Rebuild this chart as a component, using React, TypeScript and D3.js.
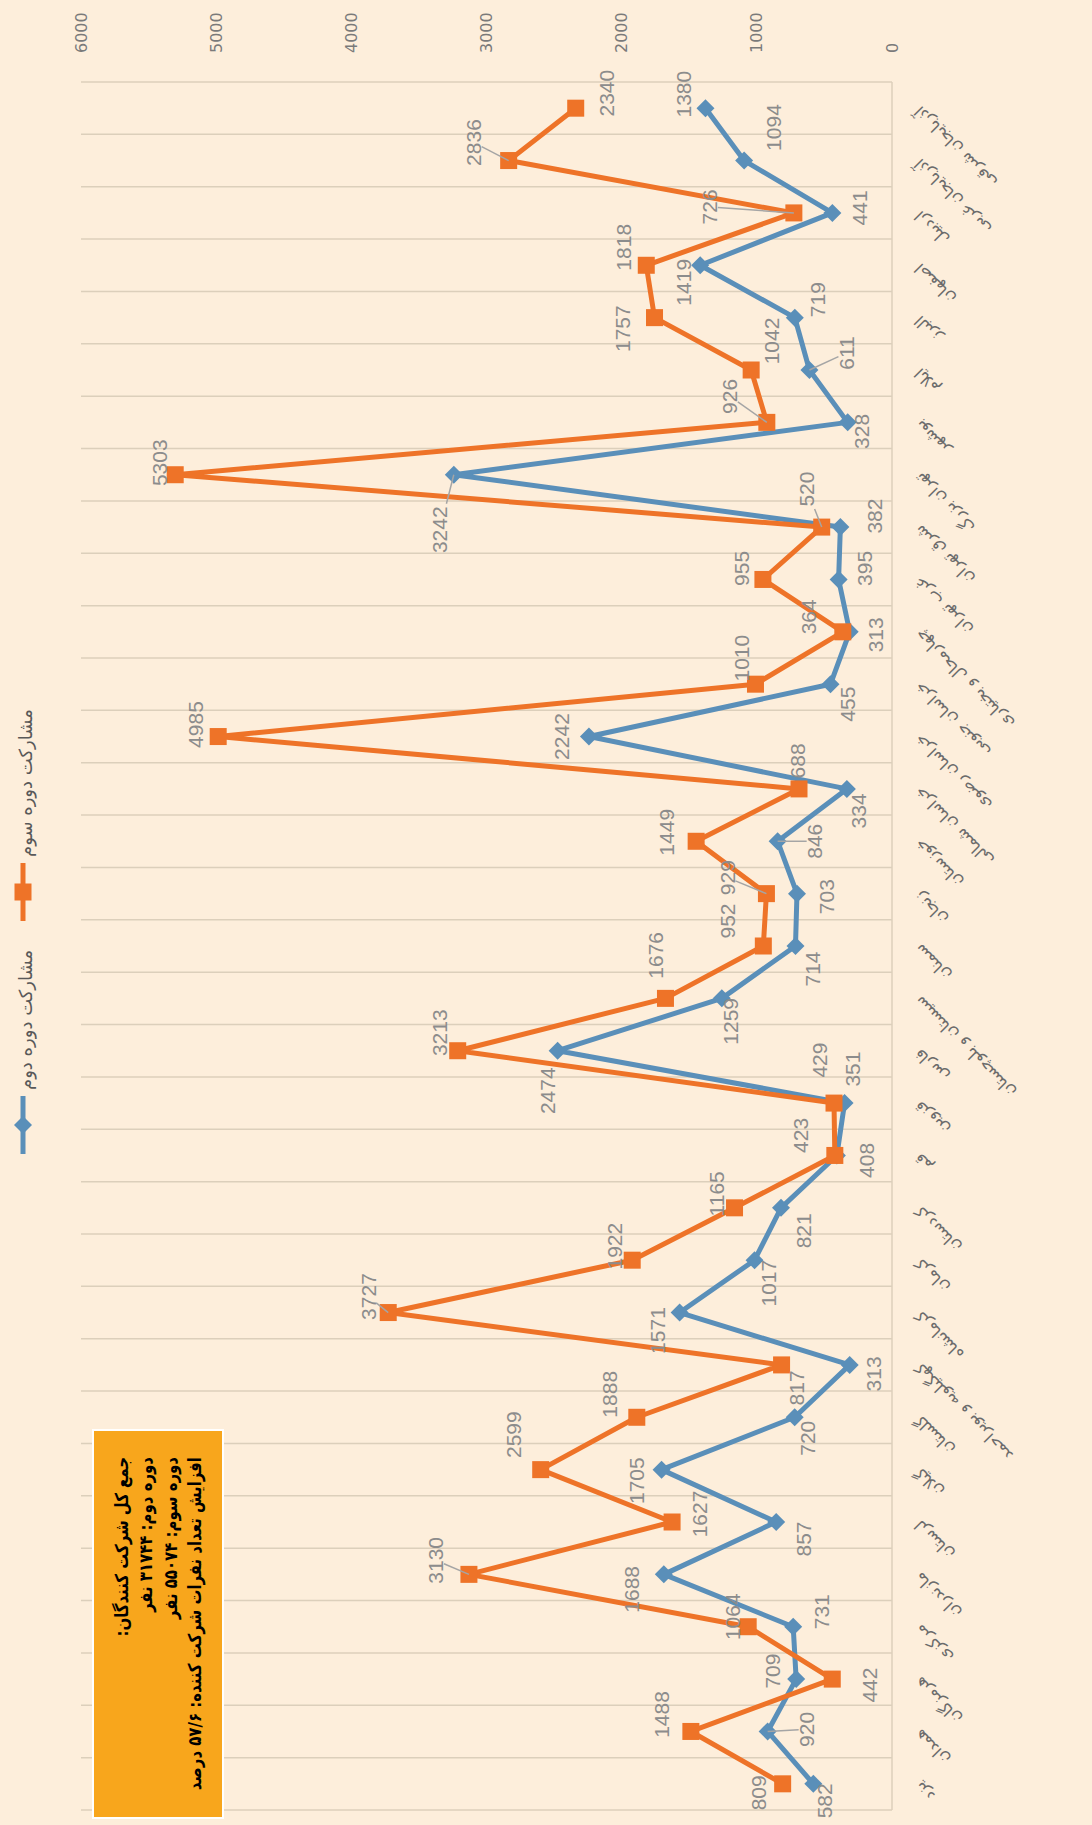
import React from "react";
import * as d3 from "d3";

// provinces (top to bottom in the rotated picture)
const categories = [
  "آذربایجان شرقی", "آذربایجان غربی", "اردبیل", "اصفهان", "البرز", "ایلام", "بوشهر",
  "تهران بزرگ", "شرق تهران", "غرب تهران", "چهارمحال و بختیاری", "خراسان جنوبی",
  "خراسان رضوی", "خراسان شمالی", "خوزستان", "زنجان", "سمنان", "سیستان و بلوچستان",
  "فارس", "قزوین", "قم", "کردستان", "کرمان", "کرمانشاه", "کهگیلویه و بویراحمد",
  "گلستان", "گیلان", "لرستان", "مازندران", "مرکزی", "هرمزگان", "همدان", "یزد",
];
const round2 = [
  1380, 1094, 441, 1419, 719, 611, 328, 3242, 382, 395, 313, 455, 2242, 334, 846, 703, 714,
  1259, 2474, 351, 408, 821, 1017, 1571, 313, 720, 1705, 857, 1688, 731, 709, 920, 582,
];
const round3 = [
  2340, 2836, 726, 1818, 1757, 1042, 926, 5303, 520, 955, 364, 1010, 4985, 688, 1449, 929, 952,
  1676, 3213, 429, 423, 1165, 1922, 3727, 817, 1888, 2599, 1627, 3130, 1064, 442, 1488, 809,
];
const valueTicks = [0, 1000, 2000, 3000, 4000, 5000, 6000];
const seriesNames = ["مشارکت دوره دوم", "مشارکت دوره سوم"];
const noteLines = [
  "جمع کل شرکت کنندگان:\u200F",
  "دوره دوم: ۳۱۷۴۴ نفر",
  "دوره سوم: ۵۵۰۷۴ نفر",
  "افزایش تعداد نفرات شرکت کننده: ۵۷/۶ درصد",
];

// label placement (pixel nudges from the marker), kept apart from the data
const blueOff = [
  [-22, -14], [29, -33], [27, -5], [-17, 17], [23, -18], [37, -17], [14, 9], [-14, 55], [34, -11],
  [26, -11], [26, 3], [17, 20], [-27, 0], [12, 22], [37, 0], [30, 3], [17, 23], [9, 23], [-10, 40],
  [8, -34], [30, 5], [22, 23], [14, 23], [-22, 18], [24, 9], [13, 21], [-25, 11], [27, 17],
  [-32, 15], [28, -15], [-24, -8], [39, -2], [11, 17],
];
const orangeOff = [
  [31, -15], [-35, -18], [-84, -6], [-23, -18], [-32, 11], [20, -29], [-37, -26], [-16, -12],
  [-15, -38], [-21, -11], [-34, -15], [-14, -26], [-23, -12], [-2, -28], [-30, -9], [-39, -16],
  [-36, -25], [-10, -43], [-18, -18], [-15, -43], [-34, -20], [-18, -14], [-18, -14], [-20, -16],
  [15, 23], [-27, -23], [-27, -35], [27, -8], [-33, -14], [-16, -10], [37, 6], [-29, -17], [-24, 9],
];
const blueLeaders = [5, 7, 14, 31];
const orangeLeaders = [1, 2, 6, 8, 15, 23, 28];

const W = 1092;
const H = 1825;
const BG = "#fdeedb";
const BLUE = "#5a8fb9";
const ORANGE = "#ee7328";
const GRID = "#dccfbb";
const LABEL = "#8c8c8c";

export default function App() {
  const left = 81, right = 892, top = 82, bottom = 1810;
  const x = d3.scaleLinear().domain([0, 6000]).range([right, left]);
  const y = d3.scaleBand<number>().domain(d3.range(categories.length)).range([top, bottom]);
  const cy = (i: number) => (y(i) as number) + y.bandwidth() / 2;

  const line = d3.line<number>().x((v) => x(v)).y((_, i) => cy(i));

  const leader = (mx: number, my: number, lx: number, ly: number, n: number) => {
    const hw = 8, hh = n * 6 + 2;
    const dx = mx - lx, dy = my - ly;
    const t = Math.min(Math.abs(dx) > 0 ? hw / Math.abs(dx) : 1e9, Math.abs(dy) > 0 ? hh / Math.abs(dy) : 1e9);
    return [lx + dx * t, ly + dy * t];
  };

  const labels = (vals: number[], off: number[][], leaders: number[]) =>
    vals.map((v, i) => {
      const mx = x(v), my = cy(i);
      const lx = mx + off[i][0], ly = my + off[i][1];
      const s = String(v);
      const [ex, ey] = leader(mx, my, lx, ly, s.length);
      return (
        <g key={i}>
          {leaders.includes(i) && (
            <line x1={mx} y1={my} x2={ex} y2={ey} stroke="#a5a5a5" strokeWidth={1.5} />
          )}
          <text
            transform={`translate(${lx},${ly}) rotate(-90)`}
            textAnchor="middle"
            dominantBaseline="central"
            fontFamily="Liberation Sans, Arial, sans-serif"
            fontSize={21}
            fill={LABEL}
          >
            {s}
          </text>
        </g>
      );
    });

  const diamond = "M0,-9L9,0L0,9L-9,0Z";

  return (
    <svg width={W} height={H} style={{ position: "absolute", left: 0, top: 0 }}>
      <rect width={W} height={H} fill={BG} />

      {/* category gridlines */}
      {d3.range(categories.length + 1).map((k) => {
        const yy = top + k * y.bandwidth();
        return <line key={k} x1={left} x2={right} y1={yy} y2={yy} stroke={GRID} strokeWidth={1.5} />;
      })}
      <line x1={right} x2={right} y1={top} y2={bottom} stroke={GRID} strokeWidth={1.5} />

      {/* value ticks */}
      {valueTicks.map((t) => (
        <text
          key={t}
          transform={`translate(${x(t)},53) rotate(-90)`}
          textAnchor="start"
          dominantBaseline="central"
          fontFamily="DejaVu Sans, sans-serif"
          fontSize={16}
          fill="#7a7a7a"
        >
          {t}
        </text>
      ))}

      {/* category labels */}
      {categories.map((c, i) => (
        <text
          key={c}
          transform={`translate(921,${cy(i) - 3}) rotate(-135)`}
          textAnchor="end"
          fontFamily="DejaVu Sans, sans-serif"
          fontSize={16}
          fill="#6b6b6b"
        >
          {c}
        </text>
      ))}

      {/* series */}
      <path d={line(round2) ?? ""} fill="none" stroke={BLUE} strokeWidth={5} strokeLinejoin="round" />
      {round2.map((v, i) => (
        <path key={i} d={diamond} transform={`translate(${x(v)},${cy(i)})`} fill={BLUE} />
      ))}
      <path d={line(round3) ?? ""} fill="none" stroke={ORANGE} strokeWidth={5} strokeLinejoin="round" />
      {round3.map((v, i) => (
        <rect key={i} x={x(v) - 8.5} y={cy(i) - 8.5} width={17} height={17} fill={ORANGE} />
      ))}

      {labels(round2, blueOff, blueLeaders)}
      {labels(round3, orangeOff, orangeLeaders)}

      {/* legend */}
      {[
        { name: seriesNames[1], color: ORANGE, end: 857, square: true },
        { name: seriesNames[0], color: BLUE, end: 1090, square: false },
      ].map((d) => (
        <g key={d.name}>
          <text
            transform={`translate(25,${d.end}) rotate(-90)`}
            textAnchor="start"
            dominantBaseline="central"
            fontFamily="DejaVu Sans, sans-serif"
            fontSize={18}
            fill="#595959"
          >
            {d.name}
          </text>
          <line x1={23} x2={23} y1={d.end + 6} y2={d.end + 64} stroke={d.color} strokeWidth={5} />
          {d.square ? (
            <rect x={23 - 8.5} y={d.end + 35 - 8.5} width={17} height={17} fill={d.color} />
          ) : (
            <path d={diamond} transform={`translate(23,${d.end + 35})`} fill={d.color} />
          )}
        </g>
      ))}

      {/* note box */}
      <rect x={93} y={1430} width={130} height={388} fill="#f8a61c" stroke="#ffffff" strokeWidth={2} />
      {noteLines.map((t, i) => (
        <text
          key={i}
          transform={`translate(${122 + i * 24.5},1457) rotate(-90) scale(0.83,1)`}
          textAnchor="end"
          dominantBaseline="central"
          fontFamily="DejaVu Sans, sans-serif"
          fontWeight="bold"
          fontSize={18}
          fill="#000"
        >
          {t}
        </text>
      ))}
    </svg>
  );
}
